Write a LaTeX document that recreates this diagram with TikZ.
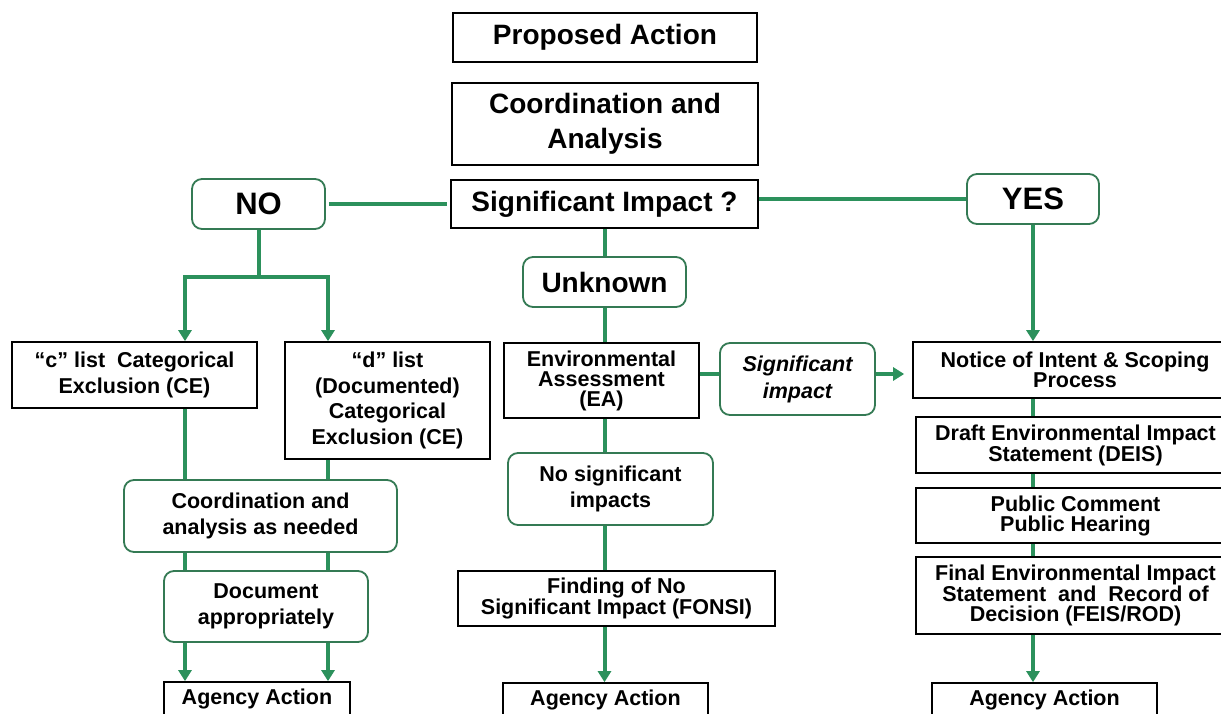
\documentclass[tikz,border=0pt]{standalone}
\usepackage{fontspec}
\setmainfont{Liberation Sans}
\usetikzlibrary{arrows.meta}
\definecolor{glc}{RGB}{44,145,92}
\definecolor{rbc}{RGB}{52,122,84}
\tikzset{
  bx/.style={draw=black, line width=1.7pt, rectangle, inner sep=0pt, align=center, fill=white},
  rbx/.style={draw=rbc, line width=1.8pt, rectangle, rounded corners=10pt, inner sep=0pt, align=center, fill=white},
  fbig/.style={font=\fontsize{28}{35}\selectfont\bfseries},
  fhuge/.style={font=\fontsize{31}{36}\selectfont\bfseries},
  fmid/.style={font=\fontsize{21.5}{25.5}\selectfont\bfseries},
  ftight/.style={font=\fontsize{21.5}{20}\selectfont\bfseries},
  fital/.style={font=\fontsize{21.5}{27}\selectfont\bfseries\itshape},
  gl/.style={draw=glc, line width=4pt},
  ga/.style={gl, -{Triangle[width=13pt,length=11pt]}},
}
\begin{document}
\begin{tikzpicture}[x=1pt,y=-1pt]
\useasboundingbox (0,0) rectangle (1221,713);
\clip (0,0) rectangle (1221,713);
\fill[white] (0,0) rectangle (1221,713);

% helper coordinates
\coordinate (bl) at (185,277);
\coordinate (br) at (328,277);
\coordinate (yrow) at (0,374);

% top column
\node[bx,fbig,minimum width=304pt,minimum height=49pt] (pa) at (605,37.5) {Proposed Action};
\node[bx,fbig,minimum width=306pt,minimum height=82pt] (ca) at (605,124) {Coordination and\\Analysis};
\node[bx,fbig,minimum width=307pt,minimum height=48pt] (sig) at (604.5,204) {Significant Impact ?};
\node[rbx,fhuge,minimum width=133pt,minimum height=50pt] (no) at (258.5,204) {NO};
\node[rbx,fhuge,minimum width=132pt,minimum height=50pt] (yes) at (1033,199) {YES};
\node[rbx,fbig,minimum width=163pt,minimum height=50pt] (un) at (604.5,282) {Unknown};

% left branch
\node[bx,fmid,minimum width=245pt,minimum height=66pt] (cl) at (134.5,375) {“c” list\ \ Categorical\\Exclusion (CE)};
\node[bx,fmid,minimum width=205pt,minimum height=117pt] (dl) at (387.5,400.5) {“d” list\\(Documented)\\Categorical\\Exclusion (CE)};
\node[rbx,fmid,minimum width=273pt,minimum height=72pt] (cn) at (260.5,516) {Coordination and\\analysis as needed};
\node[rbx,fmid,minimum width=204pt,minimum height=71pt] (doc) at (266,606.5) {Document\\appropriately};
\node[bx,fmid,minimum width=186pt,minimum height=34pt] (aa1) at (257,699) {Agency Action};

% middle branch
\node[bx,ftight,minimum width=195pt,minimum height=75pt] (ea) at (601.5,380.5) {Environmental\\Assessment\\(EA)};
\node[rbx,fital,minimum width=155pt,minimum height=72pt] (si) at (797.5,379) {Significant\\impact};
\node[rbx,fmid,minimum width=205pt,minimum height=72pt] (ns) at (610.5,489) {No significant\\impacts};
\node[bx,ftight,minimum width=317pt,minimum height=55pt] (fon) at (616.5,598.5) {Finding of No\\Significant Impact (FONSI)};
\node[bx,fmid,minimum width=205pt,minimum height=34pt] (aa2) at (605.5,700) {Agency Action};

% right branch
\node[bx,ftight,minimum width=324pt,minimum height=56pt] (noi) at (1075,370) {Notice of Intent \& Scoping\\Process};
\node[bx,ftight,minimum width=319pt,minimum height=56pt] (deis) at (1075.5,445) {Draft Environmental Impact\\Statement (DEIS)};
\node[bx,ftight,minimum width=319pt,minimum height=55pt] (pc) at (1075.5,515.5) {Public Comment\\Public Hearing};
\node[bx,ftight,minimum width=319pt,minimum height=77pt] (fin) at (1075.5,595.5) {Final Environmental Impact\\Statement\ \ and\ \ Record of\\Decision (FEIS/ROD)};
\node[bx,fmid,minimum width=225pt,minimum height=34pt] (aa3) at (1044.5,700) {Agency Action};

% connectors: top row
\draw[gl] ([xshift=3pt]no.east) -- ([xshift=-3pt]sig.west);
\draw[gl] (yes.west -| sig.east) -- (yes.west);

% left branch connectors
\draw[gl] (no.south) -- (no.south |- bl);
\draw[ga] (no.south |- bl) -| (bl |- cl.north);
\draw[ga] (no.south |- bl) -| (br |- dl.north);
\draw[gl] (bl |- cl.south) -- (bl |- cn.north);
\draw[gl] (br |- dl.south) -- (br |- cn.north);
\draw[gl] (bl |- cn.south) -- (bl |- doc.north);
\draw[gl] (br |- cn.south) -- (br |- doc.north);
\draw[ga] (bl |- doc.south) -- (bl |- aa1.north);
\draw[ga] (br |- doc.south) -- (br |- aa1.north);

% middle connectors
\draw[gl] (sig.south) -- (sig.south |- un.north);
\draw[gl] (un.south) -- (un.south |- ea.north);
\draw[gl] (un.south |- ea.south) -- (un.south |- ns.north);
\draw[gl] (un.south |- ns.south) -- (un.south |- fon.north);
\draw[ga] (un.south |- fon.south) -- (un.south |- aa2.north);
\draw[gl] (ea.east |- yrow) -- (si.west |- yrow);
\draw[ga] (si.east |- yrow) -- ([xshift=-8pt]noi.west |- yrow);

% right connectors
\draw[ga] (yes.south) -- (yes.south |- noi.north);
\draw[gl] (yes.south |- noi.south) -- (yes.south |- deis.north);
\draw[gl] (yes.south |- deis.south) -- (yes.south |- pc.north);
\draw[gl] (yes.south |- pc.south) -- (yes.south |- fin.north);
\draw[ga] (yes.south |- fin.south) -- (yes.south |- aa3.north);
\end{tikzpicture}
\end{document}
